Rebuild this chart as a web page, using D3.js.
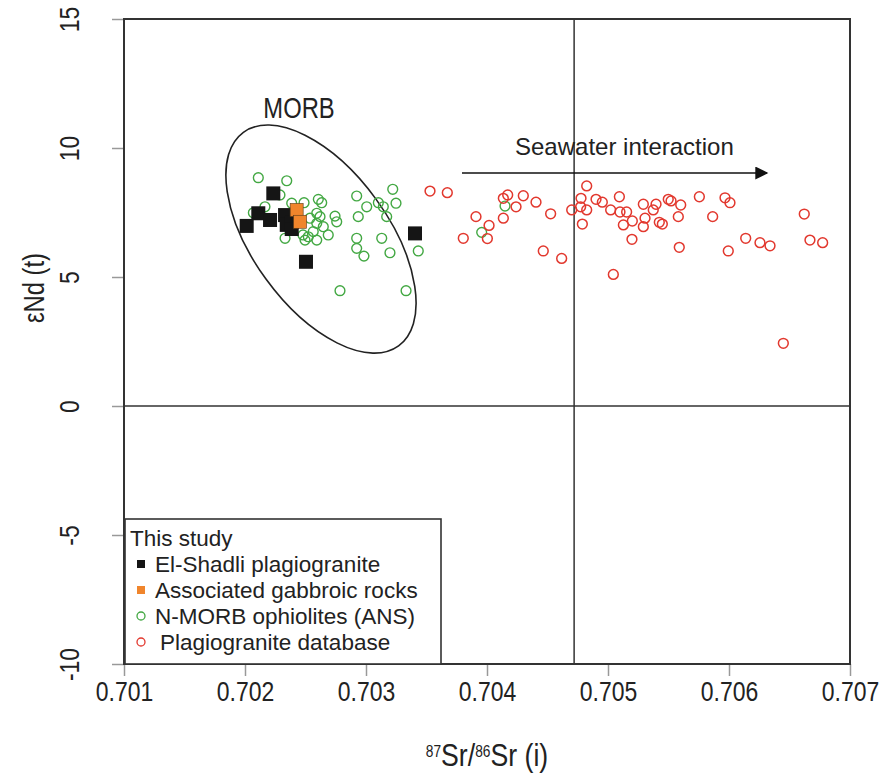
<!DOCTYPE html>
<html>
<head>
<meta charset="utf-8">
<script src="https://cdn.jsdelivr.net/npm/d3@7"></script>
<style>
  html, body { margin: 0; padding: 0; background: #fff; }
  svg { display: block; }
  text { font-family: "Liberation Sans", Arial, Helvetica, sans-serif; fill: #222; }
</style>
</head>
<body>
<svg id="chart" width="889" height="774"></svg>
<script>
// ---------------- data ----------------
const xTicks = [0.701, 0.702, 0.703, 0.704, 0.705, 0.706, 0.707];
const yTicks = [-10, -5, 0, 5, 10, 15];

// El-Shadli plagiogranite (this study)
const shadliSr = [0.702014, 0.702110, 0.702234, 0.702207, 0.702331, 0.702345, 0.702388, 0.702386, 0.702504, 0.703405];
const shadliNd = [6.98, 7.47, 8.24, 7.21, 7.40, 7.02, 7.13, 6.86, 5.59, 6.69];

// Associated gabbroic rocks (this study)
const gabbroSr = [0.702427, 0.702455];
const gabbroNd = [7.60, 7.14];

// N-MORB ophiolites (ANS)
const morbSr = [0.702110, 0.702345, 0.702165, 0.702069, 0.702386, 0.702488, 0.702606, 0.702634,
  0.702289, 0.702593, 0.702537, 0.702620, 0.702647, 0.702593, 0.702564, 0.702688, 0.702744,
  0.702758, 0.702523, 0.702496, 0.702593, 0.702331, 0.702923, 0.703006, 0.703102, 0.703143,
  0.703221, 0.703248, 0.702936, 0.703171, 0.702923, 0.702923, 0.702983, 0.703130, 0.703198,
  0.703432, 0.702785, 0.703331, 0.704149, 0.703956, 0.702479];
const morbNd = [8.85, 8.73, 7.72, 7.49, 7.86, 7.88, 8.01, 7.88,
  8.18, 7.47, 7.28, 7.34, 6.95, 7.08, 6.76, 6.63, 7.36,
  7.14, 6.56, 6.43, 6.43, 6.50, 8.14, 7.72, 7.88, 7.72,
  8.40, 7.86, 7.34, 7.34, 6.50, 6.11, 5.81, 6.50, 5.94,
  6.01, 4.47, 4.47, 7.75, 6.73, 6.63];

// Plagiogranite database
const dbSr = [0.703529, 0.703672, 0.703909, 0.704017, 0.703804, 0.704003, 0.704135, 0.704171,
  0.704300, 0.704240, 0.704135, 0.704405, 0.704526, 0.704700, 0.704465, 0.704617, 0.704824,
  0.704777, 0.704774, 0.704824, 0.704788, 0.704901, 0.704953, 0.705022, 0.705094, 0.705099,
  0.705154, 0.705127, 0.705201, 0.705198, 0.705044, 0.705292, 0.705397, 0.705374, 0.705498,
  0.705521, 0.705601, 0.705306, 0.705292, 0.705424, 0.705449, 0.705581, 0.705589, 0.705755,
  0.705865, 0.705967, 0.706008, 0.705994, 0.706138, 0.706256, 0.706339, 0.706622, 0.706669,
  0.706774, 0.706449];
const dbNd = [8.33, 8.27, 7.34, 7.00, 6.50, 6.49, 8.05, 8.18,
  8.15, 7.72, 7.28, 7.90, 7.45, 7.60, 6.01, 5.72, 8.53,
  8.05, 7.72, 7.60, 7.05, 8.01, 7.90, 7.60, 8.11, 7.52,
  7.52, 7.02, 7.17, 6.46, 5.10, 7.82, 7.82, 7.60, 8.01,
  7.95, 7.79, 7.28, 6.95, 7.12, 7.05, 7.34, 6.15, 8.11,
  7.34, 8.07, 7.88, 6.01, 6.50, 6.33, 6.21, 7.44, 6.43,
  6.33, 2.43];

const legendLabels = ["This study", "El-Shadli plagiogranite", "Associated gabbroic rocks",
  "N-MORB ophiolites (ANS)", "Plagiogranite database"];

// reference lines
const srRefLine = 0.70472;
const ndRefLine = 0;

// MORB field ellipse (centre in data units)
const morbCentreSr = 0.702628;
const morbCentreNd = 6.47;

// ---------------- layout ----------------
const svg = d3.select("#chart");
const L = 124, R = 850, T = 19, B = 664;
const x = d3.scaleLinear().domain([0.701, 0.707]).range([L, R]);
const y = d3.scaleLinear().domain([-10, 15]).range([B, T]);
const narrow = "scale(0.82,1)";

const colBlack = "#151515", colOrange = "#f0852c", colGreen = "#43a843", colRed = "#e2382e";

// axes
const xAxis = d3.axisBottom(x).tickValues(xTicks).tickFormat(d3.format(".3f"))
  .tickSize(12).tickSizeOuter(0).tickPadding(5);
const gx = svg.append("g").attr("transform", `translate(0,${B})`).call(xAxis);
gx.select(".domain").remove();
gx.selectAll("line").attr("stroke", "#999").attr("stroke-width", 1.5);
gx.selectAll("text").style("font-size", "28px").attr("fill", "#222")
  .attr("transform", narrow);

const yAxis = d3.axisLeft(y).tickValues(yTicks).tickFormat(d => String(d))
  .tickSize(12).tickSizeOuter(0);
const gy = svg.append("g").attr("transform", `translate(${L},0)`).call(yAxis);
gy.select(".domain").remove();
gy.selectAll("line").attr("stroke", "#999").attr("stroke-width", 1.5);
gy.selectAll("text").style("font-size", "28px").attr("fill", "#222")
  .attr("transform", "rotate(-90) " + narrow).attr("x", 0).attr("y", -45).attr("dy", 0)
  .style("text-anchor", "middle");

// reference lines
svg.append("line").attr("x1", L).attr("x2", R).attr("y1", y(ndRefLine)).attr("y2", y(ndRefLine))
  .attr("stroke", "#333").attr("stroke-width", 1.5);
svg.append("line").attr("x1", x(srRefLine)).attr("x2", x(srRefLine)).attr("y1", T).attr("y2", B)
  .attr("stroke", "#333").attr("stroke-width", 1.5);

// MORB ellipse
svg.append("ellipse")
  .attr("transform", `translate(${x(morbCentreSr)},${y(morbCentreNd)}) rotate(54)`)
  .attr("rx", 132).attr("ry", 68)
  .attr("fill", "none").attr("stroke", "#222").attr("stroke-width", 1.6);

svg.append("text").attr("transform", `translate(299,118) ${narrow}`).style("font-size", "29px")
  .style("text-anchor", "middle").text("MORB");

// seawater arrow
const defs = svg.append("defs");
defs.append("marker").attr("id", "arrow").attr("viewBox", "0 0 10 10")
  .attr("refX", 9).attr("refY", 5).attr("markerWidth", 16).attr("markerHeight", 13)
  .attr("markerUnits", "userSpaceOnUse").attr("orient", "auto")
  .append("path").attr("d", "M0,0 L10,5 L0,10 Z").attr("fill", "#111");
svg.append("line").attr("x1", 462).attr("x2", 767).attr("y1", 173).attr("y2", 173)
  .attr("stroke", "#111").attr("stroke-width", 1.6).attr("marker-end", "url(#arrow)");
svg.append("text").attr("x", 515).attr("y", 155).style("font-size", "24px").text("Seawater interaction");

// points
const zip = (a, b) => a.map((v, i) => [v, b[i]]);
svg.append("g").selectAll("circle").data(zip(morbSr, morbNd)).join("circle")
  .attr("cx", d => x(d[0])).attr("cy", d => y(d[1])).attr("r", 4.9)
  .attr("fill", "none").attr("stroke", colGreen).attr("stroke-width", 1.4);
svg.append("g").selectAll("circle").data(zip(dbSr, dbNd)).join("circle")
  .attr("cx", d => x(d[0])).attr("cy", d => y(d[1])).attr("r", 4.9)
  .attr("fill", "none").attr("stroke", colRed).attr("stroke-width", 1.5);
const sq = 14;
svg.append("g").selectAll("rect").data(zip(shadliSr, shadliNd)).join("rect")
  .attr("x", d => x(d[0]) - sq / 2).attr("y", d => y(d[1]) - sq / 2)
  .attr("width", sq).attr("height", sq).attr("fill", colBlack);
svg.append("g").selectAll("rect").data(zip(gabbroSr, gabbroNd)).join("rect")
  .attr("x", d => x(d[0]) - 6.5).attr("y", d => y(d[1]) - 6.5)
  .attr("width", 13).attr("height", 13).attr("fill", colOrange)
  .attr("stroke", "#5a3a1a").attr("stroke-width", 0.6);

// plot frame
svg.append("rect").attr("x", L).attr("y", T).attr("width", R - L).attr("height", B - T)
  .attr("fill", "none").attr("stroke", "#333").attr("stroke-width", 2);

// legend
const lg = svg.append("g");
lg.append("rect").attr("x", 125).attr("y", 519).attr("width", 316).attr("height", 145)
  .attr("fill", "#fff").attr("stroke", "#333").attr("stroke-width", 1.6);
const rowY = [546, 572, 598, 624, 650];
const textX = [130, 155, 155, 155, 160];
lg.selectAll("text").data(legendLabels).join("text")
  .attr("x", (d, i) => textX[i]).attr("y", (d, i) => rowY[i])
  .style("font-size", "22.5px").text(d => d);
lg.append("rect").attr("x", 137).attr("y", 560).attr("width", 8).attr("height", 8).attr("fill", colBlack);
lg.append("rect").attr("x", 137).attr("y", 586).attr("width", 8).attr("height", 8).attr("fill", colOrange);
lg.append("circle").attr("cx", 141).attr("cy", 616).attr("r", 4).attr("fill", "none")
  .attr("stroke", colGreen).attr("stroke-width", 1.3);
lg.append("circle").attr("cx", 141).attr("cy", 642).attr("r", 4).attr("fill", "none")
  .attr("stroke", colRed).attr("stroke-width", 1.3);

// axis titles
svg.append("text").attr("transform", `translate(44,288) rotate(-90) ${narrow}`)
  .style("font-size", "29px").style("text-anchor", "middle").text("εNd (t)");
const xt = svg.append("text").attr("transform", `translate(${x(0.704)},766) scale(0.86,1)`)
  .style("font-size", "31px").style("text-anchor", "middle");
xt.append("tspan").attr("baseline-shift", "super").style("font-size", "16px").text("87");
xt.append("tspan").text("Sr/");
xt.append("tspan").attr("baseline-shift", "super").style("font-size", "16px").text("86");
xt.append("tspan").text("Sr (i)");
</script>
</body>
</html>
